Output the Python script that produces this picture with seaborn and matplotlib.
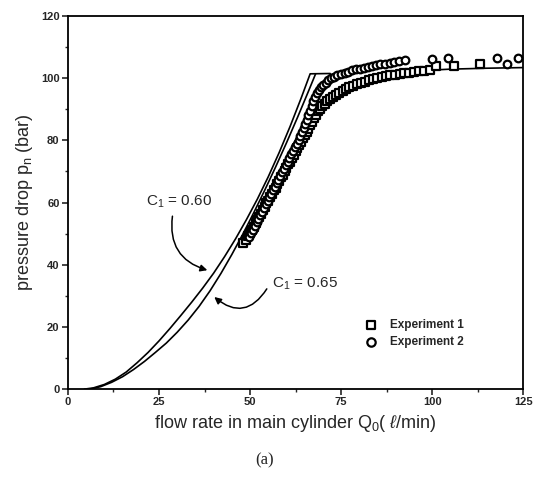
import pandas as pd
import matplotlib.pyplot as plt
import seaborn as sns
from matplotlib.ticker import MultipleLocator

# theory curves
c60_q = [4.5, 7.0, 10.0, 13.0, 16.0, 19.0, 22.0, 25.0, 28.0, 31.0, 34.0, 37.0, 40.0, 43.0,
         46.0, 49.0, 52.0, 55.0, 58.0, 61.0, 64.0, 66.5, 72.0]
c60_p = [0.0, 0.4, 1.5, 3.2, 5.5, 8.5, 11.8, 15.5, 19.5, 23.7, 28.0, 32.5, 37.3, 42.6,
         48.3, 54.5, 61.1, 68.3, 76.1, 84.5, 93.5, 101.4, 101.5]
c65_q = [6.0, 9.0, 12.0, 15.0, 18.0, 21.0, 24.0, 27.0, 30.0, 33.0, 36.0, 39.0, 42.0, 45.0,
         48.0, 51.0, 54.0, 57.0, 60.0, 63.0, 66.0, 68.0]
c65_p = [0.0, 0.8, 2.2, 4.0, 6.3, 8.9, 11.8, 14.8, 18.3, 22.2, 26.6, 31.6, 37.2, 43.3,
         49.8, 56.7, 63.9, 71.4, 79.2, 87.3, 95.7, 101.4]
tail_q = [90.0, 95.0, 105.0, 115.0, 125.0]
tail_p = [101.5, 102.3, 102.9, 103.2, 103.4]

# Experiment 1 (squares)
exp1_q = [48.0, 49.0, 49.5, 50.0, 50.5, 51.0, 51.5, 52.0, 52.5, 53.0, 53.5, 54.0, 54.5, 55.0,
          55.5, 56.0, 56.5, 57.0, 57.5, 58.0, 58.5, 59.0, 59.5, 60.0, 60.5, 61.0, 61.5, 62.0,
          62.5, 63.0, 63.5, 64.0, 64.5, 65.0, 65.5, 66.0, 66.5, 67.0, 67.5, 68.1, 68.7, 69.3,
          69.8, 70.5, 71.2, 72.0, 72.8, 73.6, 74.5, 75.4, 76.3, 77.3, 78.3, 79.3, 80.4, 81.5,
          82.6, 83.7, 84.9, 86.1, 87.3, 88.5, 89.8, 91.1, 92.4, 93.7, 95.1, 96.5, 97.8, 99.3,
          101.0, 106.0, 113.0]
exp1_p = [47.0, 48.0, 49.2, 50.1, 51.3, 52.2, 53.4, 54.3, 55.5, 56.4, 57.6, 58.5, 59.7, 60.6,
          61.8, 62.7, 63.9, 64.8, 66.0, 66.9, 68.1, 69.0, 70.2, 71.1, 72.3, 73.2, 74.4, 75.3,
          76.5, 77.4, 78.6, 79.5, 80.7, 81.6, 82.8, 83.7, 84.9, 86.0, 87.2, 88.3, 89.3, 90.2,
          91.0, 91.8, 92.5, 93.3, 94.0, 94.6, 95.3, 95.9, 96.5, 97.1, 97.6, 98.1, 98.5, 98.9,
          99.3, 99.7, 100.0, 100.3, 100.6, 100.9, 101.1, 101.4, 101.6, 101.8, 102.0, 102.2, 102.4, 102.7,
          104.0, 104.0, 104.6]

# Experiment 2 (circles)
exp2_q = [49.8, 50.3, 50.8, 51.3, 51.8, 52.3, 52.8, 53.3, 53.8, 54.3, 54.8, 55.3, 55.8, 56.3,
          56.8, 57.3, 57.8, 58.3, 58.8, 59.3, 59.8, 60.3, 60.8, 61.3, 61.8, 62.3, 62.8, 63.3,
          63.8, 64.3, 64.8, 65.2, 65.6, 66.0, 66.4, 66.9, 67.4, 67.9, 68.4, 68.9, 69.5, 70.1,
          70.8, 71.5, 72.3, 73.1, 74.0, 75.0, 76.0, 77.0, 78.0, 79.1, 80.2, 81.3, 82.4, 83.5,
          84.6, 85.8, 87.0, 88.3, 89.5, 90.8, 92.6, 100.0, 104.4, 117.8, 120.6, 123.6]
exp2_p = [49.0, 50.2, 51.3, 52.5, 53.6, 54.8, 55.9, 57.1, 58.2, 59.4, 60.5, 61.7, 62.8, 64.0,
          65.1, 66.3, 67.4, 68.6, 69.7, 70.9, 72.0, 73.2, 74.3, 75.5, 76.6, 77.8, 78.9, 80.1,
          81.3, 82.6, 83.9, 85.3, 86.7, 88.1, 89.6, 91.1, 92.6, 93.9, 95.1, 96.2, 97.1, 97.9,
          98.6, 99.3, 100.0, 100.5, 101.0, 101.4, 101.8, 102.1, 102.5, 102.8, 103.1, 103.4, 103.7, 104.0,
          104.2, 104.5, 104.7, 105.0, 105.2, 105.5, 105.9, 106.2, 106.5, 106.5, 104.6, 106.5]

sns.set_theme(style='ticks')
plt.rcParams['font.family'] = ['Liberation Sans', 'DejaVu Sans']
plt.rcParams['mathtext.fontset'] = 'custom'
plt.rcParams['mathtext.rm'] = 'Liberation Sans'
plt.rcParams['mathtext.it'] = 'Liberation Sans:italic'

fig = plt.figure(figsize=(5.35, 4.84), dpi=100)
ax = fig.add_axes([0.127, 0.196, 0.851, 0.771])

for q, p in [(c60_q, c60_p), (c65_q, c65_p), (tail_q, tail_p)]:
    sns.lineplot(x=q, y=p, ax=ax, color='black', linewidth=1.2, sort=False, estimator=None)

exp1 = pd.DataFrame({'q': exp1_q, 'p': exp1_p})
exp2 = pd.DataFrame({'q': exp2_q, 'p': exp2_p})
sns.scatterplot(data=exp1, x='q', y='p', ax=ax, marker='s', s=26, facecolor='white',
                edgecolor='black', linewidth=1.6, label='Experiment 1', zorder=3)
sns.scatterplot(data=exp2, x='q', y='p', ax=ax, marker='o', s=30, facecolor='white',
                edgecolor='black', linewidth=1.6, label='Experiment 2', zorder=3)

ax.set_xlim(0, 125)
ax.set_ylim(0, 120)
ax.xaxis.set_major_locator(MultipleLocator(25))
ax.xaxis.set_minor_locator(MultipleLocator(12.5))
ax.yaxis.set_major_locator(MultipleLocator(20))
ax.yaxis.set_minor_locator(MultipleLocator(10))
ax.tick_params(which='major', direction='out', length=4, width=1.2, labelsize=8, pad=2)
ax.tick_params(which='minor', direction='out', length=2, width=1)
for lab in ax.get_xticklabels() + ax.get_yticklabels():
    lab.set_fontweight('bold')
for sp in ax.spines.values():
    sp.set_linewidth(1.3)
    sp.set_color('black')

ax.set_xlabel('flow rate in main cylinder Q$_0$( $\\ell$/min)', fontsize=13, labelpad=4)
ax.set_ylabel('pressure drop p$_\\mathrm{n}$ (bar)', fontsize=13, labelpad=4)

ax.text(21.5, 59, 'C$_1$ = 0.60', fontsize=11)
ax.text(56, 32.5, 'C$_1$ = 0.65', fontsize=11)
ax.annotate('', xy=(39.0, 38.0), xytext=(28.8, 56.5),
            arrowprops=dict(arrowstyle='-|>', color='black', lw=1.1,
                            connectionstyle='arc3,rad=0.45', mutation_scale=10))
ax.annotate('', xy=(39.6, 30.2), xytext=(55.0, 33.0),
            arrowprops=dict(arrowstyle='-|>', color='black', lw=1.1,
                            connectionstyle='arc3,rad=-0.6', mutation_scale=10))

ax.legend(loc='upper left', bbox_to_anchor=(0.63, 0.2), frameon=False,
          prop={'weight': 'bold', 'size': 8.5}, handletextpad=0.6,
          borderaxespad=0, labelspacing=0.4, markerscale=1.1)

fig.text(0.495, 0.04, '(a)', fontsize=12, family='Liberation Serif', ha='center')

plt.savefig('out.png', dpi=100)
